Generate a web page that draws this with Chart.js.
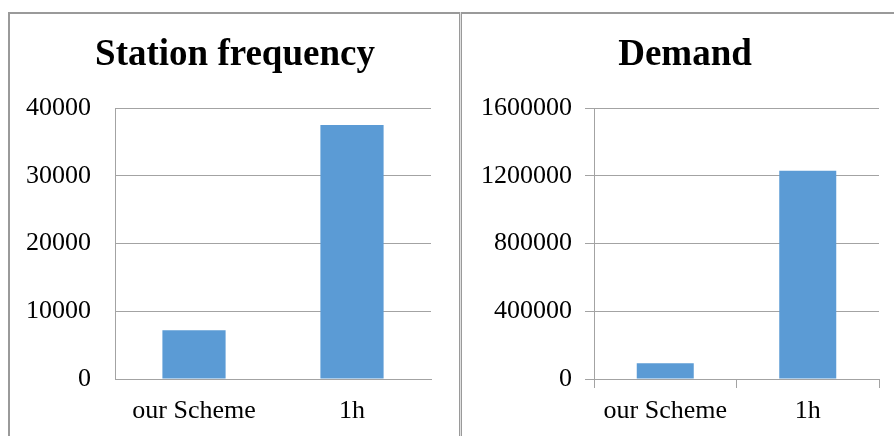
<!DOCTYPE html>
<html>
<head>
<meta charset="utf-8">
<script src="https://cdn.jsdelivr.net/npm/chart.js@4/dist/chart.umd.min.js"></script>
<style>
  html, body { margin: 0; padding: 0; background: #fff; }
  #page { position: relative; width: 894px; height: 436px; overflow: hidden; background: #fff; }
  .frame-top { position: absolute; left: 8px; top: 12px; width: 900px; height: 0; border-top: 2px solid #9a9a9a; }
  .frame-left { position: absolute; left: 8px; top: 12px; width: 0; height: 440px; border-left: 2px solid #9a9a9a; }
  .frame-mid { position: absolute; left: 459px; top: 12px; width: 1px; height: 440px; background: #e0e0e0; border-left: 1px solid #9a9a9a; border-right: 1px solid #9a9a9a; }
  canvas { position: absolute; }
  #c1 { left: 10px; top: 14px; }
  #c2 { left: 462px; top: 14px; }
</style>
</head>
<body>
<div id="page">
  <div class="frame-top"></div>
  <div class="frame-left"></div>
  <div class="frame-mid"></div>
  <canvas id="c1" width="450" height="422"></canvas>
  <canvas id="c2" width="446" height="422"></canvas>
</div>
<script>
// Categories and values for the two panels
const categories = ['our Scheme', '1h'];
const stationFrequency = [7200, 37500];
const demand = [93000, 1230000];

// Y-axis ranges / tick steps
const freqTicks = [0, 10000, 20000, 30000, 40000];
const demandTicks = [0, 400000, 800000, 1200000, 1600000];

const BAR = '#5b9bd5';
const GRID = '#a3a3a3';
const SERIF = "'Liberation Serif', 'Times New Roman', serif";

function makeChart(canvasId, title, values, ticks, yWidth, withTickMarks) {
  const tickLen = withTickMarks ? 9 : 0;
  return new Chart(document.getElementById(canvasId), {
    type: 'bar',
    data: {
      labels: categories,
      datasets: [{
        data: values,
        backgroundColor: BAR,
        borderWidth: 0,
        barPercentage: 0.4,
        categoryPercentage: 1.0
      }]
    },
    options: {
      responsive: false,
      animation: false,
      devicePixelRatio: 1,
      layout: { padding: 0 },
      plugins: {
        legend: { display: false },
        tooltip: { enabled: false },
        title: {
          display: true,
          text: title,
          color: '#000',
          font: { family: SERIF, size: 37, weight: 'bold', lineHeight: 1.2 },
          padding: { top: 19.5, bottom: 30.1 }
        }
      },
      scales: {
        x: {
          grid: {
            display: withTickMarks,
            drawOnChartArea: false,
            drawTicks: withTickMarks,
            tickLength: 9,
            color: GRID,
            offset: true
          },
          border: { display: true, color: GRID, width: 1 },
          ticks: {
            color: '#000',
            font: { family: SERIF, size: 26 },
            padding: 16.6 - tickLen,
            maxRotation: 0
          },
          afterFit: s => { s.height = 57; }
        },
        y: {
          min: ticks[0],
          max: ticks[ticks.length - 1],
          afterBuildTicks: s => { s.ticks = ticks.map(v => ({ value: v })); },
          grid: {
            color: GRID,
            drawTicks: withTickMarks,
            tickLength: 9
          },
          border: { display: true, color: GRID, width: 1 },
          ticks: {
            color: '#000',
            font: { family: SERIF, size: 26 },
            padding: withTickMarks ? 13 : 24,
            callback: v => String(v)
          },
          afterFit: s => { s.width = yWidth; }
        },
        pad: {
          type: 'linear',
          position: 'right',
          display: true,
          grid: { display: false },
          border: { display: false },
          ticks: { display: false },
          afterFit: s => { s.width = 29; }
        }
      }
    }
  });
}

makeChart('c1', 'Station frequency', stationFrequency, freqTicks, 105, false);
makeChart('c2', 'Demand', demand, demandTicks, 132, true);
</script>
</body>
</html>
